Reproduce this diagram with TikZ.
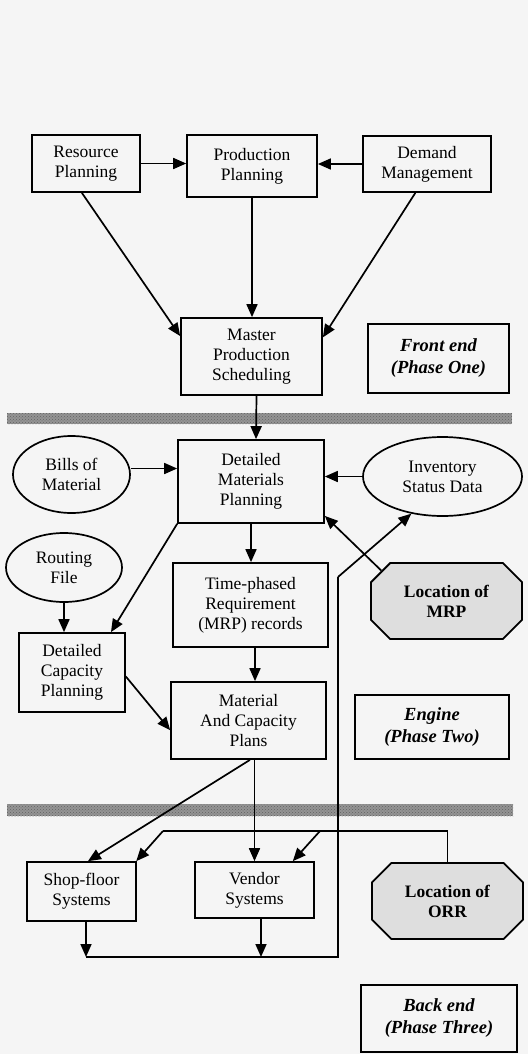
\documentclass[tikz,border=0pt]{standalone}
\usepackage{fontspec}
\setmainfont{Liberation Serif}
\usetikzlibrary{arrows.meta,shapes.geometric,shapes.misc,calc,patterns}

\begin{document}
\begin{tikzpicture}[x=1pt,y=-1pt,
  every node/.style={font=\fontsize{17.5}{20}\selectfont, align=center, inner sep=0pt},
  box/.style={draw, line width=1.7pt},
  oval/.style={ellipse, draw, line width=1.7pt},
  loc/.style={chamfered rectangle, chamfered rectangle xsep=18pt, draw,
    line width=1.8pt, fill=black!13, minimum width=151pt, minimum height=76pt,
    font=\bfseries\fontsize{17.5}{20}\selectfont},
  phase/.style={draw, line width=1.7pt,
    font=\bfseries\itshape\fontsize{18.5}{22}\selectfont},
  arr/.style={line width=1.7pt, -{Triangle[length=13pt,width=11pt]}},
  ln/.style={line width=1.7pt},
  bar/.style={fill=black!42, draw=none}]

\useasboundingbox (0,0) rectangle (528,1054);
\fill[black!4] (0,0) rectangle (528,1054);

% phase separators, grey with a speckled finish
\fill[bar] (7,413) rectangle (512,424);
\fill[pattern=crosshatch dots, pattern color=black!62] (7,413) rectangle (512,424);
\fill[bar] (7,804) rectangle (513,816);
\fill[pattern=crosshatch dots, pattern color=black!62] (7,804) rectangle (513,816);

% front end
\node[box, minimum width=108pt, minimum height=57pt] (rp) at (86,163.5) {Resource\\Planning};
\node[box, minimum width=130pt, minimum height=62pt] (pp) at (252,166) {Production\\Planning};
\node[box, minimum width=128pt, minimum height=56pt] (dm) at (427,164) {Demand\\Management};
\node[box, minimum width=141pt, minimum height=77pt] (mps) at (251.5,356.5) {Master\\Production\\Scheduling};
\node[phase, minimum width=141pt, minimum height=69pt] (fe) at (438.5,358.5) {Front end\\(Phase One)};

% engine
\node[box, minimum width=146pt, minimum height=83pt] (dmp) at (251,481.5) {Detailed\\Materials\\Planning};
\node[oval, minimum width=117pt, minimum height=77pt] (bom) at (71.5,474.5) {Bills of\\Material};
\node[oval, minimum width=159pt, minimum height=79pt] (isd) at (442.5,476.5) {Inventory\\Status Data};
\node[oval, minimum width=116pt, minimum height=69pt] (rf) at (64,567.5) {Routing\\File};
\node[box, minimum width=155pt, minimum height=84pt] (tp) at (250.5,605) {Time-phased\\Requirement\\(MRP) records};
\node[loc] (mrp) at (446.5,601) {Location of\\MRP};
\node[box, minimum width=106pt, minimum height=79pt] (dcp) at (72,672.5) {Detailed\\Capacity\\Planning};
\node[box, minimum width=155pt, minimum height=77pt] (mcp) at (248.5,720.5) {Material\\And Capacity\\Plans};
\node[phase, minimum width=154pt, minimum height=64pt] (eng) at (432,727) {Engine\\(Phase Two)};

% back end
\node[box, minimum width=109pt, minimum height=59pt] (sfs) at (81.5,891.5) {Shop-floor\\Systems};
\node[box, minimum width=119pt, minimum height=56pt] (vs) at (254.5,890) {Vendor\\Systems};
\node[loc] (orr) at (447.5,901) {Location of\\ORR};
\node[phase, minimum width=156pt, minimum height=67pt] (be) at (439,1018.5) {Back end\\(Phase Three)};

% front end connectors
\draw[arr] (rp.east) -- (rp.east -| pp.west);
\draw[arr] (dm.west) -- (dm.west -| pp.east);
\draw[arr] (rp.262) -- (mps.164);
\draw[arr] (pp.south) -- (pp.south |- mps.north);
\draw[arr] (dm.248) -- (mps.15);
\draw[arr] ([xshift=5pt]mps.south) -- ([xshift=5pt]dmp.north);

% engine connectors
\draw[arr] ([yshift=6pt]bom.east) -- ([yshift=6pt]bom.east -| dmp.west);
\draw[arr] (isd.west) -- (isd.west -| dmp.east);
\draw[arr] (dmp.south west) -- (dcp.46);
\draw[arr] (rf.south) -- (rf.south |- dcp.north);
\draw[arr] (dmp.south) -- (dmp.south |- tp.north);
\draw[arr] ([xshift=4.5pt]tp.south) -- ([xshift=6.5pt]mcp.north);
\draw[arr] ([yshift=-4pt]dcp.east) -- (mcp.187);
\draw[arr] (mrp.155) -- (dmp.335);

% back end connectors
\draw[arr] ([xshift=1.5pt]mcp.south) -- (sfs.78);
\draw[arr] (vs.north |- mcp.south) -- (vs.north);

\coordinate (fbR) at (orr.north |- 0,831);
\coordinate (fbL) at (163,831);
\coordinate (fbM) at (320,831);
\draw[ln] (orr.north) -- (fbR) -- (fbL);
\draw[arr] (fbL) -- (sfs.29);
\draw[arr] (fbM) -- (vs.37);

\coordinate (busL) at (86,957);
\coordinate (busM) at (261,957);
\coordinate (busR) at (338,957);
\coordinate (riser) at (338,577);
\draw[arr] (sfs.south -| busL) -- (busL);
\draw[arr] (vs.south -| busM) -- (busM);
\draw[ln, line join=miter] (busL) -- (busR) -- (riser);
\draw[arr] (riser) -- (isd.230);

\end{tikzpicture}
\end{document}
